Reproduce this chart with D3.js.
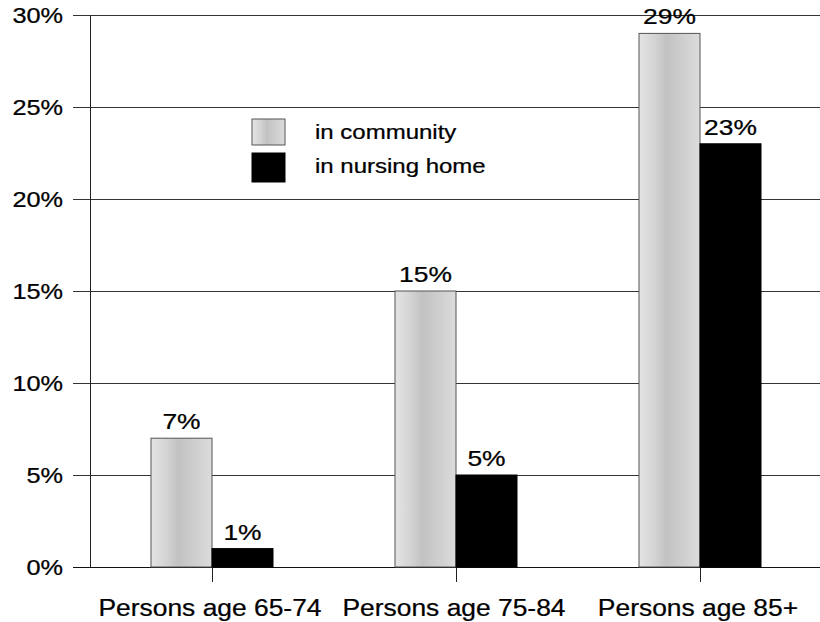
<!DOCTYPE html>
<html>
<head>
<meta charset="utf-8">
<script src="https://cdn.jsdelivr.net/npm/d3@7"></script>
<style>
html,body{margin:0;padding:0;background:#fff;}
svg{display:block;}
text{font-family:Arial,"Liberation Sans",sans-serif;fill:#000;stroke:#000;stroke-width:0.25px;}
</style>
</head>
<body>
<svg id="chart" width="820" height="622"></svg>
<script>
const categories = ["Persons age 65-74", "Persons age 75-84", "Persons age 85+"];
const seriesNames = ["in community", "in nursing home"];
const community = [7, 15, 29];
const nursingHome = [1, 5, 23];
const yTicks = [0, 5, 10, 15, 20, 25, 30];

(function () {
const svg = d3.select("#chart");
const W = 820;
const mLeft = 90, mRight = 822, mTop = 15, mBottom = 567;

const x0 = d3.scaleBand().domain(categories).range([mLeft, mRight]).padding(0);
const x1 = d3.scaleBand().domain(seriesNames)
  .range([x0.bandwidth() * 0.25, x0.bandwidth() * 0.75]).padding(0);
const y = d3.scaleLinear().domain([0, 30]).range([mBottom, mTop]);

// gradient for community bars
const defs = svg.append("defs");
const grad = defs.append("linearGradient").attr("id", "commGrad")
  .attr("x1", "0%").attr("x2", "100%").attr("y1", "0%").attr("y2", "0%");
[["0%", "#e4e4e4"], ["25%", "#d4d4d4"], ["45%", "#c2c2c2"], ["65%", "#cbcbcb"], ["100%", "#dcdcdc"]]
  .forEach(([o, c]) => grad.append("stop").attr("offset", o).attr("stop-color", c));

// gridlines
svg.append("g").selectAll("line").data(yTicks).join("line")
  .attr("x1", 73).attr("x2", W)
  .attr("y1", d => Math.round(y(d)) + 0.5).attr("y2", d => Math.round(y(d)) + 0.5)
  .attr("stroke", d => d === 0 ? "#111" : "#333").attr("stroke-width", 1);

// y axis line
svg.append("line").attr("x1", mLeft + 0.5).attr("x2", mLeft + 0.5)
  .attr("y1", y(30)).attr("y2", y(0)).attr("stroke", "#222");

// category ticks
svg.append("g").selectAll("line").data(categories).join("line")
  .attr("x1", d => Math.round(x0(d) + x0.bandwidth() / 2) + 0.5)
  .attr("x2", d => Math.round(x0(d) + x0.bandwidth() / 2) + 0.5)
  .attr("y1", mBottom).attr("y2", mBottom + 15).attr("stroke", "#222");

function stretchedText(parent, x, yy, txt, size, sx, anchor, dy) {
  parent.append("g").attr("transform", `translate(${x},${yy}) scale(${sx},1)`)
    .append("text").attr("text-anchor", anchor).attr("dy", dy || 0)
    .attr("font-size", size).text(txt);
}

// y tick labels
const yl = svg.append("g");
yTicks.forEach(t => stretchedText(yl, 63, y(t), t + "%", 22, 1.15, "end", "0.36em"));

// bars
const data = categories.map((c, i) => ({cat: c, vals: [
  {s: seriesNames[0], v: community[i]},
  {s: seriesNames[1], v: nursingHome[i]}
]}));
const groups = svg.append("g").selectAll("g").data(data).join("g")
  .attr("transform", d => `translate(${x0(d.cat)},0)`);
groups.selectAll("rect").data(d => d.vals).join("rect")
  .attr("x", d => x1(d.s)).attr("width", x1.bandwidth())
  .attr("y", d => y(d.v)).attr("height", d => y(0) - y(d.v))
  .attr("fill", d => d.s === seriesNames[0] ? "url(#commGrad)" : "#000")
  .attr("stroke", d => d.s === seriesNames[0] ? "#555" : "#000").attr("stroke-width", 1);

// value labels
groups.each(function(d) {
  const g = d3.select(this);
  d.vals.forEach(v => stretchedText(g, x1(v.s) + x1.bandwidth() / 2, y(v.v) - 9, v.v + "%", 22, 1.2, "middle"));
});

// category labels
const cl = svg.append("g");
categories.forEach(c => stretchedText(cl, x0(c) + x0.bandwidth() / 2 - 2, 616, c, 24, 1.1, "middle"));

// legend
const lg = svg.append("g");
const legendFills = ["url(#commGrad)", "#000"];
const legendY = [119, 153];
seriesNames.forEach((s, i) => {
  lg.append("rect").attr("x", 252).attr("y", legendY[i]).attr("width", 33).attr("height", i === 0 ? 26 : 29)
    .attr("fill", legendFills[i]).attr("stroke", i === 0 ? "#555" : "#000");
  stretchedText(lg, 315, legendY[i] + 20, s, 20, 1.2, "start");
});
})();
</script>
</body>
</html>
